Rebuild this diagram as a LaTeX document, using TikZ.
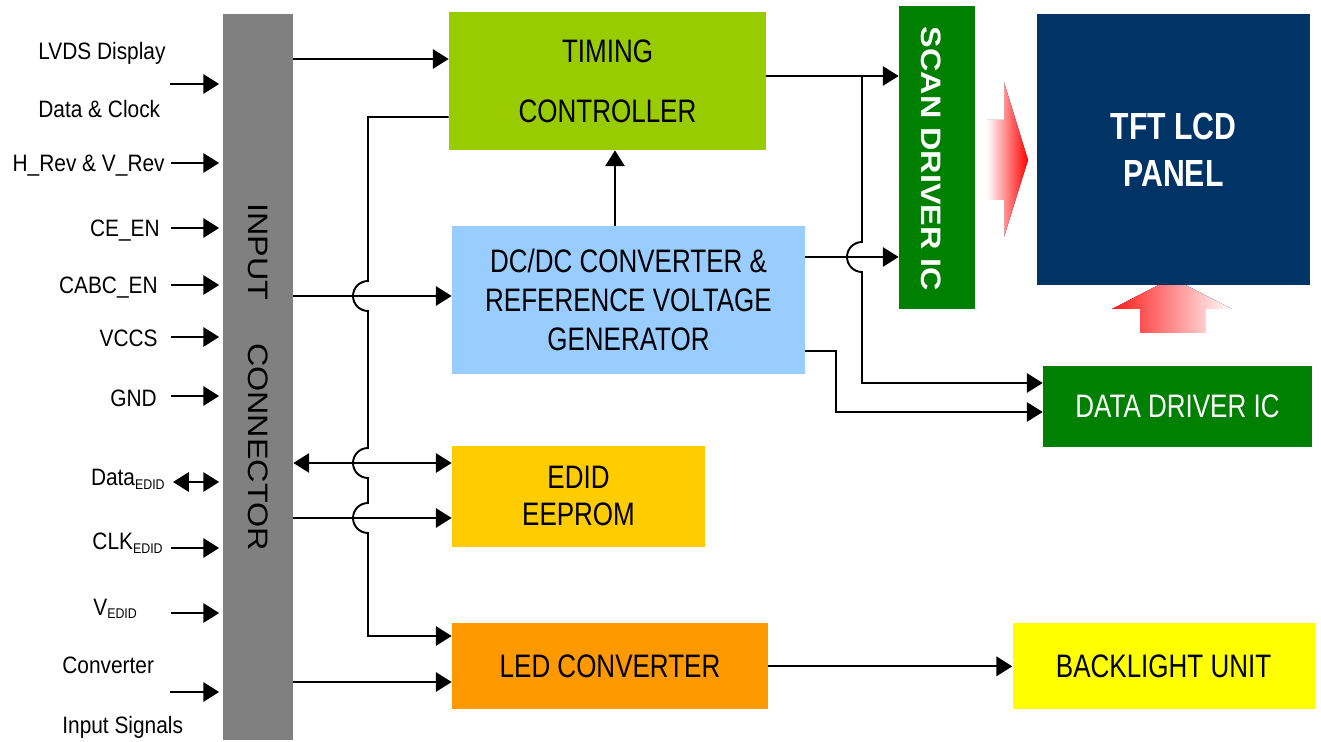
\documentclass[tikz,border=0pt]{standalone}
\usepackage{fontspec}
\setmainfont{Liberation Sans}[FakeStretch=0.88]
\newfontfamily\blkfont{Liberation Sans}[FakeStretch=0.8]
\newfontfamily\vertfont{Liberation Sans}[FakeStretch=1.15]
\usepackage{tikz}
\usetikzlibrary{arrows.meta,positioning,calc}
\definecolor{ConnGray}{HTML}{808080}
\definecolor{TconGreen}{HTML}{99CC00}
\definecolor{DcdcBlue}{HTML}{99CCFF}
\definecolor{EdidGold}{HTML}{FFCC00}
\definecolor{LedOrange}{HTML}{FF9900}
\definecolor{DrvGreen}{HTML}{008000}
\definecolor{PanelNavy}{HTML}{003366}
\definecolor{BluYellow}{HTML}{FFFF00}
\newcommand{\lowsub}[1]{\raisebox{-0.3ex}{\fontsize{8}{8}\selectfont #1}}
\tikzset{
  block/.style={rectangle,draw=none,inner sep=0pt,align=center,font=\blkfont\fontsize{18.5}{22}\selectfont},
  arrow/.style={-{Triangle[length=9pt,width=11pt]},line width=1.1pt},
  darrow/.style={{Triangle[length=9pt,width=11pt]}-{Triangle[length=9pt,width=11pt]},line width=1.1pt},
  stub/.style={arrow,shorten >=0.07cm},
  dstub/.style={darrow,shorten >=0.07cm},
  sig/.style={inner sep=0pt,font=\fontsize{13.5}{16}\selectfont},
  hop/.style={start angle=90,end angle=270,radius=0.3cm},
}

\begin{document}
\begin{tikzpicture}[x=0.02cm, y=-0.02cm]
  \useasboundingbox (0,0) rectangle (1321,742);

  % Input connector
  \node[block, fill=ConnGray, minimum width=1.4cm, minimum height=14.52cm] (conn) at (258,377) {};
  \node[rotate=-90, inner sep=0pt, font=\vertfont\fontsize{16}{16}\selectfont] (conntxt) at (conn.center) {INPUT\hspace{0.86cm}CONNECTOR};

  % Blocks
  \node[block, fill=TconGreen, minimum width=6.34cm, minimum height=2.76cm, font=\blkfont\fontsize{18.5}{34}\selectfont] (timing) at (607.5,81) {TIMING\\CONTROLLER};
  \node[block, fill=DcdcBlue, minimum width=7.06cm, minimum height=2.96cm, font=\blkfont\fontsize{18.5}{22.2}\selectfont] (dcdc) at (628.5,300) {DC/DC CONVERTER \&\\REFERENCE VOLTAGE\\GENERATOR};
  \node[block, fill=EdidGold, minimum width=5.06cm, minimum height=2.02cm, font=\blkfont\fontsize{18.5}{21}\selectfont, below=1.42cm of dcdc.south west, anchor=north west] (edid) {EDID\\EEPROM};
  \node[block, fill=LedOrange, minimum width=6.32cm, minimum height=1.72cm, below=1.52cm of edid.south west, anchor=north west] (led) {LED CONVERTER};
  \node[block, fill=BluYellow, minimum width=6.04cm, minimum height=1.72cm, right=4.88cm of led] (blu) {BACKLIGHT UNIT};
  \node[block, fill=DrvGreen, minimum width=1.52cm, minimum height=6.06cm] (scan) at (937,157.5) {};
  \node[rotate=-90, inner sep=0pt, text=white, font=\vertfont\bfseries\fontsize{16}{16}\selectfont] (scantxt) at (931,159) {SCAN DRIVER IC};

  % Red light arrows
  \fill[left color=white, right color=red] (987,120) -- (1004,120) -- (1004,82) -- (1028,160) -- (1004,237) -- (1004,200) -- (987,200) -- cycle;
  \fill[left color=red!90, right color=white] (1140,333) -- (1140,309) -- (1112,309) -- (1172,278) -- (1232,309) -- (1205,309) -- (1205,333) -- cycle;

  \node[block, fill=PanelNavy, text=white, minimum width=5.46cm, minimum height=5.42cm, font=\blkfont\bfseries\fontsize{21.5}{26.7}\selectfont] (panel) at (1173.5,149.5) {TFT LCD\\PANEL};
  \node[block, fill=DrvGreen, text=white, minimum width=5.38cm, minimum height=1.62cm, below=1.6cm of panel.south west, anchor=north west, xshift=0.12cm] (ddrv) {DATA DRIVER IC};

  % Input signals
  \node[sig, anchor=base west] (lvds) at (38,60) {LVDS Display};
  \node[sig, anchor=base west] (lvdsb) at (38,118) {Data \& Clock};
  \node[sig, anchor=base east] (hrev) at (165,172) {H\_Rev \& V\_Rev};
  \node[sig, anchor=base east] (ceen) at (160,237) {CE\_EN};
  \node[sig, anchor=base east] (cabc) at (158,294) {CABC\_EN};
  \node[sig, anchor=base east] (vccs) at (158,347) {VCCS};
  \node[sig, anchor=base east] (gnd) at (157,407) {GND};
  \node[sig, anchor=base east] (dedid) at (165,486) {Data\lowsub{EDID}};
  \node[sig, anchor=base east] (cedid) at (163,550) {CLK\lowsub{EDID}};
  \node[sig, anchor=base west] (vedid) at (93,615) {V\lowsub{EDID}};
  \node[sig, anchor=base west] (conv) at (62,673) {Converter};
  \node[sig, anchor=base west] (convb) at (62,733) {Input Signals};

  \coordinate (in1) at (170,84);
  \coordinate (in2) at (171,163);
  \coordinate (in3) at (171,228);
  \coordinate (in4) at (171,285);
  \coordinate (in5) at (171,337);
  \coordinate (in6) at (171,396);
  \coordinate (in7) at (173,482);
  \coordinate (in8) at (171,548);
  \coordinate (in9) at (171,613);
  \coordinate (in10) at (170,692);

  \draw[stub] (in1) -- (in1 -| conn.west);
  \draw[stub] (in2) -- (in2 -| conn.west);
  \draw[stub] (in3) -- (in3 -| conn.west);
  \draw[stub] (in4) -- (in4 -| conn.west);
  \draw[stub] (in5) -- (in5 -| conn.west);
  \draw[stub] (in6) -- (in6 -| conn.west);
  \draw[dstub] (in7) -- (in7 -| conn.west);
  \draw[stub] (in8) -- (in8 -| conn.west);
  \draw[stub] (in9) -- (in9 -| conn.west);
  \draw[stub] (in10) -- (in10 -| conn.west);

  % Connector outputs
  \draw[arrow] (conn.east |- 0,59) -- (timing.west |- 0,59);
  \draw[arrow] (conn.east |- 0,296) -- (dcdc.west |- 0,296);
  \draw[darrow] (conn.east |- 0,463) -- (edid.west |- 0,463);
  \draw[arrow] (conn.east |- 0,518) -- (edid.west |- 0,518);
  \draw[arrow] (conn.east |- 0,682) -- (led.west |- 0,682);

  % Timing controller to LED converter
  \draw[arrow] (timing.west |- 0,117) -- (368,117) -- (368,281) arc[hop]
    -- (368,448) arc[hop] -- (368,503) arc[hop] -- (368,636) -- (led.west |- 0,636);

  % Drivers
  \draw[arrow] (timing.east |- 0,76) -- (scan.west |- 0,76);
  \draw[arrow] (862,76) -- (862,242) arc[hop] -- (862,383) -- (ddrv.west |- 0,383);
  \draw[arrow] (dcdc.east |- 0,257) -- (scan.west |- 0,257);
  \draw[arrow] (dcdc.east |- 0,351) -- (836,351) -- (836,412) -- (ddrv.west |- 0,412);
  \draw[arrow] (615,0 |- dcdc.north) -- (615,0 |- timing.south);
  \draw[arrow] (led) -- (blu);
\end{tikzpicture}
\end{document}
